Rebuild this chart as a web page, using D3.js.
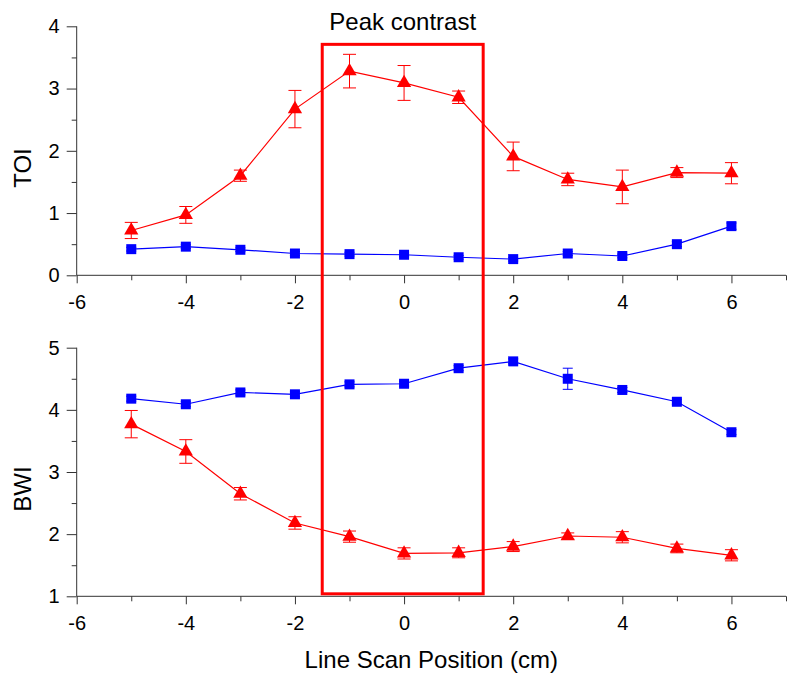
<!DOCTYPE html>
<html>
<head>
<meta charset="utf-8">
<script src="https://cdn.jsdelivr.net/npm/d3@7"></script>
<style>
  body { margin: 0; background: #fff; }
  svg { font-family: Arial, "Liberation Sans", sans-serif; }
</style>
</head>
<body>
<div class="chart"></div>
<script>
const width = 799
const height = 682

// scan positions (cm)
const positions = [-5, -4, -3, -2, -1, 0, 1, 2, 3, 4, 5, 6]

// TOI panel
const toiRed = [0.72, 0.97, 1.60, 2.67, 3.28, 3.09, 2.86, 1.91, 1.54, 1.42, 1.65, 1.64]
const toiRedErr = [0.13, 0.135, 0.09, 0.30, 0.27, 0.28, 0.10, 0.23, 0.10, 0.27, 0.08, 0.17]
const toiBlue = [0.42, 0.46, 0.41, 0.35, 0.34, 0.33, 0.29, 0.26, 0.35, 0.31, 0.50, 0.79]
const toiBlueErr = [0.03, 0.03, 0.03, 0.03, 0.03, 0.03, 0.03, 0.03, 0.03, 0.03, 0.04, 0.05]

// BWI panel
const bwiBlue = [4.18, 4.09, 4.28, 4.25, 4.41, 4.42, 4.67, 4.78, 4.50, 4.32, 4.13, 3.64]
const bwiBlueErr = [0.04, 0.04, 0.04, 0.04, 0.04, 0.04, 0.04, 0.04, 0.17, 0.04, 0.04, 0.04]
const bwiRed = [3.77, 3.33, 2.65, 2.18, 1.96, 1.69, 1.70, 1.80, 1.97, 1.95, 1.77, 1.66]
const bwiRedErr = [0.22, 0.19, 0.10, 0.10, 0.09, 0.09, 0.08, 0.08, 0.05, 0.09, 0.07, 0.09]

// tick values
const xMajor = [-6, -4, -2, 0, 2, 4, 6]
const xMinor = [-5, -3, -1, 1, 3, 5, 7]
const toiMajor = [0, 1, 2, 3, 4]
const toiMinor = [0.5, 1.5, 2.5, 3.5]
const bwiMajor = [1, 2, 3, 4, 5]
const bwiMinor = [1.5, 2.5, 3.5, 4.5]

// highlighted region
const peakX = [-1.5, 1.45]
const peakLabel = "Peak contrast"

const svg = d3.select('.chart')
    .append('svg')
    .attr('width', width)
    .attr('height', height)

const x = d3.scaleLinear().domain([-6, 7]).range([76.7, 786])
const yTop = d3.scaleLinear().domain([0, 4]).range([275.3, 26.3])
const yBot = d3.scaleLinear().domain([1, 5]).range([596.3, 347.7])

const axisColor = "#333"

// draws both axes of one panel: minor ticks short and unlabeled
function drawAxes(y, yMajor, yMinor) {
    const g = svg.append("g")
    const base = y.range()[0]

    g.append("g")
        .attr("transform", `translate(0,${base})`)
        .call(d3.axisBottom(x).tickValues(xMinor).tickSize(5).tickFormat(""))
    g.append("g")
        .attr("transform", `translate(0,${base})`)
        .call(d3.axisBottom(x).tickValues(xMajor).tickSize(8).tickPadding(12).tickFormat(d => d))

    g.append("g")
        .attr("transform", `translate(${x(-6)},0)`)
        .call(d3.axisLeft(y).tickValues(yMinor).tickSize(5).tickFormat(""))
    g.append("g")
        .attr("transform", `translate(${x(-6)},0)`)
        .call(d3.axisLeft(y).tickValues(yMajor).tickSize(10).tickPadding(7).tickFormat(d => d))

    g.selectAll(".domain").remove()
    g.append("line")
        .attr("x1", x(-6)).attr("x2", x(7))
        .attr("y1", base).attr("y2", base)
        .attr("stroke", axisColor)
    g.append("line")
        .attr("x1", x(-6)).attr("x2", x(-6))
        .attr("y1", y.range()[0]).attr("y2", y.range()[1])
        .attr("stroke", axisColor)

    g.selectAll(".tick line").attr("stroke", axisColor)
    g.selectAll(".tick text")
        .attr("fill", "#000")
        .attr("font-size", "20px")
}

drawAxes(yTop, toiMajor, toiMinor)
drawAxes(yBot, bwiMajor, bwiMinor)

function drawSeries(y, values, errs, color, shape) {
    const g = svg.append("g")
    const pts = positions.map((p, i) => ({ p, v: values[i], e: errs[i] }))
    const isSquare = shape === d3.symbolSquare
    const cap = isSquare ? 5 : 6.5

    // error bars
    const eb = g.selectAll(".eb").data(pts).join("g")
    eb.append("line")
        .attr("x1", d => x(d.p)).attr("x2", d => x(d.p))
        .attr("y1", d => y(d.v - d.e)).attr("y2", d => y(d.v + d.e))
    eb.append("line")
        .attr("x1", d => x(d.p) - cap).attr("x2", d => x(d.p) + cap)
        .attr("y1", d => y(d.v + d.e)).attr("y2", d => y(d.v + d.e))
    eb.append("line")
        .attr("x1", d => x(d.p) - cap).attr("x2", d => x(d.p) + cap)
        .attr("y1", d => y(d.v - d.e)).attr("y2", d => y(d.v - d.e))
    eb.selectAll("line").attr("stroke", color).attr("stroke-width", 1)

    g.append("path")
        .datum(pts)
        .attr("fill", "none")
        .attr("stroke", color)
        .attr("stroke-width", 1.2)
        .attr("d", d3.line().x(d => x(d.p)).y(d => y(d.v)))

    g.selectAll(".mk").data(pts).join("path")
        .attr("transform", d => `translate(${x(d.p)},${y(d.v)})`)
        .attr("d", d3.symbol().type(shape).size(isSquare ? 100 : 88))
        .attr("fill", color)
}

drawSeries(yTop, toiBlue, toiBlueErr, "#0000ff", d3.symbolSquare)
drawSeries(yTop, toiRed, toiRedErr, "#ff0000", d3.symbolTriangle)
drawSeries(yBot, bwiBlue, bwiBlueErr, "#0000ff", d3.symbolSquare)
drawSeries(yBot, bwiRed, bwiRedErr, "#ff0000", d3.symbolTriangle)

// peak contrast box
svg.append("rect")
    .attr("x", x(peakX[0]))
    .attr("y", yTop(3.71))
    .attr("width", x(peakX[1]) - x(peakX[0]))
    .attr("height", yBot(1.04) - yTop(3.71))
    .attr("fill", "none")
    .attr("stroke", "#ff0000")
    .attr("stroke-width", 3)

svg.append("text")
    .attr("x", (x(peakX[0]) + x(peakX[1])) / 2)
    .attr("y", 30)
    .attr("text-anchor", "middle")
    .attr("font-size", "24px")
    .text(peakLabel)

// axis titles
svg.append("text")
    .attr("transform", "translate(31,168) rotate(-90)")
    .attr("text-anchor", "middle")
    .attr("font-size", "24px")
    .text("TOI")

svg.append("text")
    .attr("transform", "translate(31,489) rotate(-90)")
    .attr("text-anchor", "middle")
    .attr("font-size", "24px")
    .text("BWI")

svg.append("text")
    .attr("x", (x(-6) + x(7)) / 2)
    .attr("y", 668)
    .attr("text-anchor", "middle")
    .attr("font-size", "24px")
    .text("Line Scan Position (cm)")
</script>
</body>
</html>
